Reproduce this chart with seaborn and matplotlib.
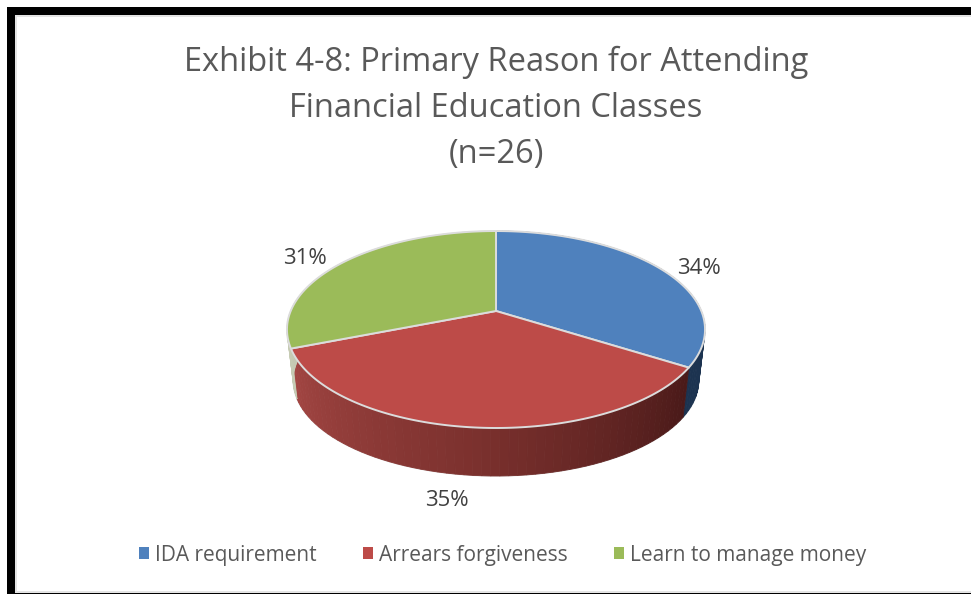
import matplotlib
matplotlib.use("Agg")
import matplotlib.pyplot as plt
from matplotlib.patches import Patch, Rectangle
import numpy as np
import seaborn as sns

# dados
categorias = ["IDA requirement", "Arrears forgiveness", "Learn to manage money"]
valores = [34, 35, 31]
cores = ["#4f81bd", "#bd4b48", "#9bbb59"]
titulo = "Exhibit 4-8: Primary Reason for Attending\nFinancial Education Classes\n(n=26)"

sns.set_theme(style="white")
plt.rcParams["font.family"] = ["Open Sans", "DejaVu Sans"]

# centro e perspectiva da pizza, em pixels da imagem
CX, CY = 496, 311
A, B, K = 205.3, 95, 0.188
ESCALA_BASE, DESCE_BASE = 0.97, 51.5


def projetar(theta, base=False):
    u, v = np.cos(np.radians(theta)), np.sin(np.radians(theta))
    s, dy = (ESCALA_BASE, DESCE_BASE) if base else (1, 0)
    d = 1 + K * v
    return CX + s * A * u / d, CY + dy - s * B * v / d


fig = plt.figure(figsize=(9.71, 5.94), dpi=100)
ax = fig.add_axes([0, 0, 1, 1])

# a pizza dá os ângulos; depois cada fatia é redesenhada em perspectiva
fatias, _ = ax.pie(valores, startangle=90, counterclock=False, colors=cores)
angulos = [(w.theta1, w.theta2) for w in fatias]
for w in fatias:
    w.remove()

ax.set_aspect("auto")
ax.set_xlim(0, 971)
ax.set_ylim(594, 0)
ax.axis("off")

# paredes laterais
rampa_vermelha = sns.blend_palette(["#a34643", "#7c312e", "#4a1a19"], 60)
laterais = [["#1c3350"] * 60, rampa_vermelha, ["#c6cbb4"] * 60]
for (t1, t2), rampa in zip(angulos, laterais):
    passos = np.linspace(t1, t2, 61)
    # a fatia vermelha escurece da esquerda para a direita
    for i in range(60):
        x0, y0 = projetar(passos[i])
        x1, y1 = projetar(passos[i + 1])
        x2, y2 = projetar(passos[i + 1], base=True)
        x3, y3 = projetar(passos[i], base=True)
        cor = rampa[i]
        ax.fill([x0, x1, x2, x3], [y0, y1, y2, y3], color=cor, lw=0.6, zorder=2)

# contorno claro da base
t = np.linspace(0, 360, 361)
xb, yb = projetar(t, base=True)
ax.plot(xb, yb, color="#d9d9d9", lw=1, zorder=1)

# topo
for (t1, t2), cor in zip(angulos, cores):
    xs, ys = projetar(np.linspace(t1, t2, 120))
    ax.fill(np.r_[CX, xs], np.r_[CY, ys], facecolor=cor, edgecolor="#dcdcdc",
            lw=1.4, joinstyle="round", zorder=3)

# moldura preta
ax.add_patch(Rectangle((7, 7), 964, 8, color="black", lw=0, zorder=5))
ax.add_patch(Rectangle((7, 7), 8, 587, color="black", lw=0, zorder=5))
ax.add_patch(Rectangle((15, 592.5), 956, 1.5, color="black", lw=0, zorder=5))
ax.add_patch(Rectangle((15, 15), 956, 2, color="#e4e4e4", lw=0, zorder=4))
ax.add_patch(Rectangle((15, 15), 2, 578, color="#e4e4e4", lw=0, zorder=4))
ax.add_patch(Rectangle((15, 590.5), 956, 2, color="#e4e4e4", lw=0, zorder=4))

cinza = "#595959"
ax.text(496, 108.5, titulo, ha="center", va="center", fontsize=23.5, color=cinza,
        linespacing=1.52, zorder=6)

posicoes_rotulos = [(699, 269), (447, 501), (305, 258)]
for v, (x, y) in zip(valores, posicoes_rotulos):
    ax.text(x, y, f"{v}%", ha="center", va="center", fontsize=16, color="#404040", zorder=6)

alcas = [Patch(facecolor=c, edgecolor="none", label=n) for c, n in zip(cores, categorias)]
ax.legend(handles=alcas, ncol=3, loc="center", bbox_to_anchor=(502.5 / 971, 1 - 555 / 594),
          frameon=False, fontsize=15, labelcolor=cinza, handlelength=0.48, handleheight=0.48,
          handletextpad=0.3, columnspacing=2.2)

fig.savefig("out.png", dpi=100, facecolor="white")
plt.close(fig)
